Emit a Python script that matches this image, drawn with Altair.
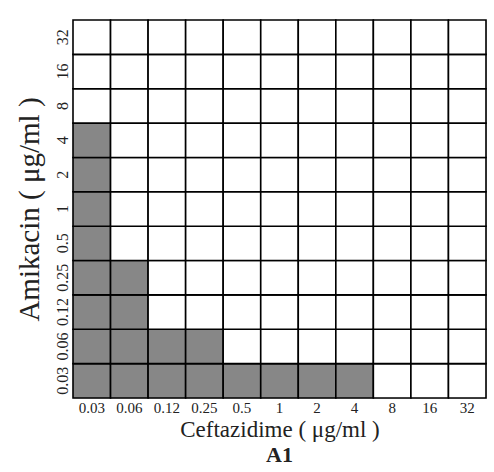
import altair as alt
import pandas as pd

ceftazidime = ["0.03", "0.06", "0.12", "0.25", "0.5", "1", "2", "4", "8", "16", "32"]
amikacin = ["0.03", "0.06", "0.12", "0.25", "0.5", "1", "2", "4", "8", "16", "32"]
# number of inhibited (grey) wells from the bottom, per ceftazidime column
grey_rows = [8, 4, 2, 2, 1, 1, 1, 1, 0, 0, 0]

rows = []
for i, c in enumerate(ceftazidime):
    for j, a in enumerate(amikacin):
        rows.append({"Ceftazidime": c, "Amikacin": a,
                     "growth": "no" if j < grey_rows[i] else "yes"})
df = pd.DataFrame(rows)

FONT = "Liberation Serif"

chart = alt.Chart(df).mark_rect(stroke="black", strokeWidth=1.6).encode(
    x=alt.X("Ceftazidime:O", sort=ceftazidime, title="Ceftazidime ( μg/ml )",
            scale=alt.Scale(paddingInner=0, paddingOuter=0),
            axis=alt.Axis(labelAngle=0, labelFont=FONT, labelFontSize=15, labelColor="#222",
                          ticks=False, domain=False, labelPadding=2,
                          titleFont=FONT, titleFontSize=23, titleFontWeight="normal",
                          titleColor="#222", titlePadding=3)),
    y=alt.Y("Amikacin:O", sort=list(reversed(amikacin)), title="Amikacin ( μg/ml )",
            scale=alt.Scale(paddingInner=0, paddingOuter=0),
            axis=alt.Axis(labelAngle=270, labelAlign="center", labelBaseline="bottom",
                          labelFont=FONT, labelFontSize=16, labelColor="#222",
                          ticks=False, domain=False, labelPadding=3,
                          titleFont=FONT, titleFontSize=29, titleFontWeight="normal",
                          titleColor="#222", titlePadding=10)),
    color=alt.Color("growth:N", scale=alt.Scale(domain=["no", "yes"], range=["#878787", "white"]),
                    legend=None),
).properties(
    width=413, height=378,
    autosize="none",
    padding={"left": 73, "top": 20, "right": 8, "bottom": 74},
    title=alt.TitleParams("A1", orient="bottom", font=FONT, fontSize=22, fontWeight="bold",
                          color="#222", offset=4, anchor="middle"),
).configure_view(stroke=None).configure(background="white")

chart.save("out.html", embed_options={"renderer": "svg", "actions": False})
